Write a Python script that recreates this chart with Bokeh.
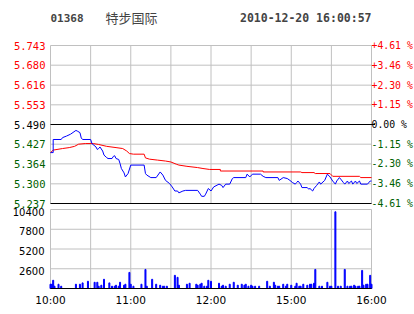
from bokeh.plotting import figure
from bokeh.models import Range1d, LabelSet, Label, ColumnDataSource
from bokeh.core.properties import value
from bokeh.embed import file_html
from bokeh.resources import INLINE

# ---------------- data ----------------
code = "01368"
name = "特步国际"
stamp = "2010-12-20 16:00:57"
prev_close = 5.490

# minutes since 10:00 (trading minutes, lunch break removed: 12:30 -> 14:30)
price_min = [0, 2, 2, 8, 9, 12, 15, 19, 20, 22, 23, 24, 30, 31, 34, 35, 36, 37, 39, 40, 42, 43, 46, 47,
             48, 49, 51, 52, 53, 55, 56, 58, 60, 70, 71, 72, 75, 79, 82, 84, 86, 89, 91, 93, 95, 96, 99,
             101, 110, 112, 113, 115, 116, 118, 120, 122, 126, 128, 129, 131, 134, 136, 137, 146, 147,
             149, 151, 157, 159, 161, 170, 171, 174, 177, 179, 181, 183, 184, 185, 187, 188, 192, 193,
             194, 196, 197, 199, 201, 202, 205, 207, 209, 211, 213, 214, 216, 217, 219, 220, 222, 223,
             225, 226, 228, 229, 231, 232, 237, 239, 240]
price_val = [5.400, 5.400, 5.442, 5.442, 5.448, 5.453, 5.459, 5.471, 5.469, 5.464, 5.447, 5.442, 5.442,
             5.429, 5.418, 5.410, 5.413, 5.418, 5.405, 5.392, 5.384, 5.381, 5.381, 5.388, 5.390, 5.381,
             5.378, 5.365, 5.349, 5.335, 5.322, 5.333, 5.360, 5.360, 5.333, 5.328, 5.320, 5.320, 5.338,
             5.328, 5.311, 5.301, 5.290, 5.277, 5.277, 5.271, 5.277, 5.279, 5.279, 5.267, 5.260, 5.260,
             5.267, 5.285, 5.277, 5.290, 5.299, 5.295, 5.288, 5.299, 5.299, 5.317, 5.320, 5.320, 5.331,
             5.322, 5.331, 5.331, 5.324, 5.320, 5.320, 5.311, 5.320, 5.317, 5.311, 5.304, 5.299, 5.304,
             5.309, 5.299, 5.288, 5.288, 5.283, 5.285, 5.277, 5.285, 5.295, 5.306, 5.299, 5.311, 5.331,
             5.322, 5.309, 5.299, 5.309, 5.320, 5.315, 5.304, 5.299, 5.309, 5.301, 5.309, 5.299, 5.309,
             5.301, 5.309, 5.299, 5.299, 5.309, 5.309]

avg_min = [0, 2, 9, 14, 18, 21, 26, 32, 36, 42, 49, 54, 57, 59, 62, 70, 71, 74, 80, 86, 90, 94, 96, 102,
           110, 114, 119, 127, 127, 159, 159, 187, 188, 197, 198, 209, 211, 231, 232, 240]
avg_val = [5.400, 5.408, 5.413, 5.416, 5.420, 5.427, 5.429, 5.429, 5.426, 5.420, 5.416, 5.413, 5.405,
           5.397, 5.395, 5.395, 5.383, 5.379, 5.376, 5.373, 5.370, 5.363, 5.360, 5.356, 5.352, 5.349,
           5.346, 5.346, 5.341, 5.341, 5.338, 5.338, 5.336, 5.336, 5.333, 5.333, 5.324, 5.324, 5.320,
           5.320]

vol_min = [0, 1, 2, 3, 6, 8, 19, 22, 24, 28, 33, 35, 36, 38, 40, 44, 46, 48, 49, 51, 52, 55, 56, 59, 60,
           62, 68, 71, 72, 76, 79, 82, 84, 85, 87, 93, 95, 96, 102, 104, 109, 110, 112, 113, 115, 117,
           118, 120, 126, 128, 129, 131, 134, 137, 140, 143, 145, 146, 148, 150, 151, 153, 156, 162, 164,
           167, 168, 170, 171, 174, 176, 177, 180, 183, 184, 186, 187, 189, 192, 194, 195, 197, 198, 201,
           203, 207, 209, 210, 213, 215, 217, 220, 222, 224, 225, 227, 228, 230, 231, 233, 234, 236, 237,
           239, 240]
vol_val = [560, 560, 1080, 300, 560, 300, 560, 560, 740, 950, 820, 820, 300, 430, 1210, 740, 300, 300, 430,
           300, 820, 430, 560, 2120, 560, 300, 560, 2510, 300, 1210, 560, 430, 300, 300, 300, 1730, 1470,
           430, 560, 690, 560, 430, 560, 690, 300, 300, 1080, 950, 690, 300, 430, 300, 560, 820, 430, 560,
           430, 560, 300, 430, 300, 300, 300, 950, 300, 820, 430, 300, 300, 560, 300, 560, 430, 300, 690,
           300, 300, 560, 430, 560, 560, 690, 2510, 300, 300, 820, 300, 300, 10100, 300, 300, 2510, 300,
           300, 300, 430, 300, 300, 300, 2380, 430, 560, 560, 1730, 560]

price_ticks = [5.237, 5.300, 5.364, 5.427, 5.490, 5.553, 5.616, 5.680, 5.743]
price_labels = ["5.237", "5.300", "5.364", "5.427", "5.490", "5.553", "5.616", "5.680", "5.743"]
pct_labels = ["-4.61 %", "-3.46 %", "-2.30 %", "-1.15 %", " 0.00 %", "+1.15 %", "+2.30 %", "+3.46 %", "+4.61 %"]
vol_ticks = [0, 2600, 5200, 7800, 10400]
vol_labels = ["", "2600", "5200", "7800", "10400"]
time_ticks = [0, 60, 120, 180, 240]
time_labels = ["10:00", "11:00", "12:00", "15:00", "16:00"]
grid_minutes = [30, 60, 90, 120, 150, 180, 210]

RED, GREEN, GRAY, BLUE = "#ff0000", "#006000", "#c0c0c0", "#0000ff"
tick_colors = [GREEN if v < prev_close - 1e-9 else (RED if v > prev_close + 1e-9 else "black")
               for v in price_ticks]

# ---------------- layout constants (pixels) ----------------
W, H = 414, 314
FL, FR = 50, 371          # plotting box, left/right
PT, PB = 45, 203          # price box, top/bottom
VT, VB = 209, 288         # volume box, top/bottom
t0, t1 = time_ticks[0], time_ticks[-1]
p_lo, p_hi = price_ticks[0], price_ticks[-1]
v_lo, v_hi = vol_ticks[0], vol_ticks[-1]
xpp = (t1 - t0) / (FR - FL)
ypp = (p_hi - p_lo) / (PB - PT)
vpp = (v_hi - v_lo) / (VB - VT)

# one figure whose frame is the whole canvas; volume uses an extra y range
p = figure(width=W, height=H,
           x_range=Range1d(t0 - FL * xpp, t1 + (W - FR) * xpp),
           y_range=Range1d(p_lo - (H - PB) * ypp, p_hi + PT * ypp),
           output_backend="svg", toolbar_location=None, title=None,
           x_axis_location=None, y_axis_location=None,
           min_border_left=0, min_border_right=0, min_border_top=0, min_border_bottom=0)
p.extra_y_ranges = {"vol": Range1d(v_lo - (H - VB) * vpp, v_hi + VT * vpp)}
p.outline_line_color = None
p.grid.visible = False
p.background_fill_color = "white"
p.border_fill_color = "white"

# ---- price box ----
p.segment(x0=grid_minutes, x1=grid_minutes, y0=[p_lo] * len(grid_minutes), y1=[p_hi] * len(grid_minutes),
          line_color=GRAY, line_width=1)
inner = price_ticks[1:-1]
p.segment(x0=[t0] * len(inner), x1=[t1] * len(inner), y0=inner, y1=inner, line_color=GRAY, line_width=1)
p.quad(left=[t0], right=[t1], bottom=[p_lo], top=[p_hi], fill_color=None, line_color=GRAY, line_width=1)
p.segment(x0=[t0, t0], x1=[t1, t1], y0=[prev_close, p_lo], y1=[prev_close, p_lo],
          line_color="black", line_width=1)
p.scatter(x=[t1], y=[prev_close], marker="dash", size=7, line_color="black", line_width=1)

p.line(avg_min, avg_val, line_color=RED, line_width=1)
p.line(price_min, price_val, line_color=BLUE, line_width=1)

lsrc = ColumnDataSource(dict(x=[t0] * len(price_ticks), y=price_ticks, t=price_labels, c=tick_colors))
p.add_layout(LabelSet(x="x", y="y", text="t", source=lsrc, text_color="c", x_offset=-5,
                      text_align="right", text_baseline="middle",
                      text_font=value("DejaVu Sans Mono"), text_font_size="10.5px"))
rsrc = ColumnDataSource(dict(x=[t1] * len(price_ticks), y=price_ticks, t=pct_labels, c=tick_colors))
p.add_layout(LabelSet(x="x", y="y", text="t", source=rsrc, text_color="c", x_offset=0,
                      text_align="left", text_baseline="middle",
                      text_font=value("DejaVu Sans Mono"), text_font_size="9.8px"))

p.add_layout(Label(x=t0, y=p_hi, y_offset=28, text=code, text_font="DejaVu Sans Mono",
                   text_font_style="bold", text_font_size="11px", text_baseline="middle"))
p.add_layout(Label(x=t0, y=p_hi, x_offset=55, y_offset=28, text=name, text_font="Noto Sans CJK SC",
                   text_font_size="13px", text_baseline="middle"))
p.add_layout(Label(x=t1, y=p_hi, y_offset=28, text=stamp, text_font="DejaVu Sans Mono",
                   text_font_style="bold", text_font_size="11.5px", text_baseline="middle",
                   text_align="right"))

# ---- volume box ----
p.segment(x0=grid_minutes, x1=grid_minutes, y0=[v_lo] * len(grid_minutes), y1=[v_hi] * len(grid_minutes),
          line_color=GRAY, line_width=1, y_range_name="vol")
vinner = vol_ticks[1:-1]
p.segment(x0=[t0] * len(vinner), x1=[t1] * len(vinner), y0=vinner, y1=vinner,
          line_color=GRAY, line_width=1, y_range_name="vol")
p.quad(left=[t0], right=[t1], bottom=[v_lo], top=[v_hi], fill_color=None, line_color=GRAY,
       line_width=1, y_range_name="vol")
p.vbar(x=vol_min, top=vol_val, bottom=0, width=0.75, color=BLUE, y_range_name="vol")
p.segment(x0=[t0], x1=[t1], y0=[v_lo], y1=[v_lo], line_color="black", line_width=1, y_range_name="vol")

vsrc = ColumnDataSource(dict(x=[t0] * len(vol_ticks), y=vol_ticks, t=vol_labels))
p.add_layout(LabelSet(x="x", y="y", text="t", source=vsrc, y_range_name="vol", x_offset=-6,
                      y_offset=-2, text_align="right", text_baseline="middle", text_color="black",
                      text_font=value("DejaVu Sans"), text_font_size="10px"))
tsrc = ColumnDataSource(dict(x=time_ticks, y=[v_lo] * len(time_ticks), t=time_labels))
p.add_layout(LabelSet(x="x", y="y", text="t", source=tsrc, y_range_name="vol", y_offset=-5,
                      text_align="center", text_baseline="top", text_color="black",
                      text_font=value("DejaVu Sans"), text_font_size="10.5px"))

open("out.html", "w").write(file_html(p, INLINE))
